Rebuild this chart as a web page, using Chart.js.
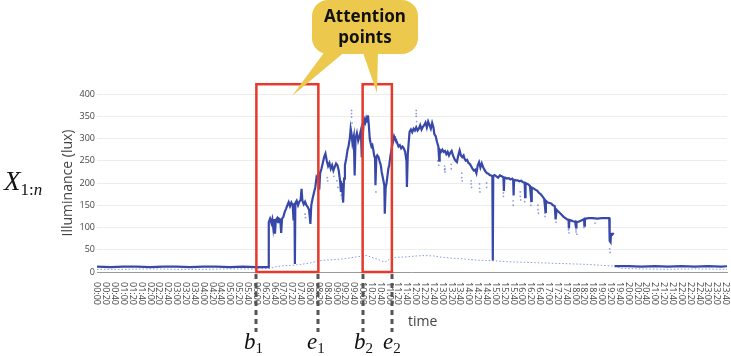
<!DOCTYPE html>
<html>
<head>
<meta charset="utf-8">
<script src="https://cdn.jsdelivr.net/npm/chart.js@4.4.1/dist/chart.umd.min.js"></script>
<style>
  body { margin: 0; background: #fff; }
  #wrap { position: relative; width: 731px; height: 356px; overflow: hidden; }
  #chart { position: absolute; left: 0; top: 0; }
  .math { position: absolute; font-family: "Liberation Serif", "DejaVu Serif", serif; font-style: italic; color: #111; white-space: nowrap; line-height: 1; }
  .math sub { font-style: normal; font-size: 15px; vertical-align: -4px; }
  #xvar { left: 4px; top: 168px; font-size: 27px; }
  #xvar sub { font-size: 17px; vertical-align: -5px; }
  #xvar sub i { font-style: italic; }
  #bubble { position: absolute; left: 0; top: 0; }
  #bubbleText { position: absolute; left: 312px; top: 5px; width: 106px; text-align: center; font-family: "Noto Sans", sans-serif; font-weight: bold; font-size: 17px; line-height: 21px; color: #111; }
  #xtitle { position: absolute; left: 408px; top: 314px; font-family: "Open Sans", sans-serif; font-size: 14px; line-height: 14px; color: #444; }
</style>
</head>
<body>
<div id="wrap">
  <canvas id="chart" width="731" height="356"></canvas>
  <svg id="bubble" width="731" height="120">
    <rect x="312" y="0" width="106" height="54" rx="16" fill="#ECC94D"/>
    <polygon points="326,50 347,50 292,96" fill="#ECC94D"/>
    <polygon points="362,50 378,50 377,93" fill="#ECC94D"/>
  </svg>
  <div id="bubbleText">Attention<br>points</div>
  <div id="xtitle">time</div>
  <div class="math" id="xvar">X<sub>1:<i>n</i></sub></div>
  <div class="math" style="left:244px;top:330px;font-size:23px">b<sub>1</sub></div>
  <div class="math" style="left:307px;top:330px;font-size:23px">e<sub>1</sub></div>
  <div class="math" style="left:354px;top:330px;font-size:23px">b<sub>2</sub></div>
  <div class="math" style="left:383px;top:330px;font-size:23px">e<sub>2</sub></div>
</div>
<script>
// illuminance log of one day (main sensor)
const mainTimes = [
  '00:00','00:30','01:00','01:30','02:00','02:30','03:00','03:30','04:00','04:30','05:00','05:30','06:00','06:27',
  '06:28','06:31','06:34','06:36','06:38','06:40','06:42','06:44','06:47','06:49','06:51','06:54','06:56','06:58',
  '07:01','07:04','07:07','07:10','07:13','07:16','07:19','07:22','07:24','07:26','07:27','07:28',
  '07:31','07:34','07:37','07:40','07:42','07:44','07:47','07:50','07:53','07:56','07:59',
  '08:02','08:04','08:07','08:10','08:13','08:16','08:19','08:21','08:22','08:24','08:27','08:30',
  '08:33','08:36','08:39','08:42','08:45','08:48','08:51','08:54','08:57',
  '09:00','09:03','09:06','09:09','09:11','09:13','09:16','09:18','09:20','09:23','09:26','09:28',
  '09:31','09:33','09:35','09:37','09:40','09:42','09:44','09:47','09:50','09:53','09:56','09:58',
  '10:00','10:02','10:04','10:06','10:08','10:10','10:12','10:14','10:16','10:18','10:20','10:22',
  '10:24','10:26','10:28','10:29','10:31','10:33','10:36','10:38','10:41','10:43','10:45','10:47',
  '10:49','10:50','10:52','10:54','10:56','10:58',
  '11:00','11:03','11:06','11:09','11:11','11:13','11:15','11:18','11:21','11:24','11:27','11:30',
  '11:33','11:36','11:39','11:40','11:42','11:44','11:46','11:49','11:52','11:55','11:58',
  '12:01','12:04','12:07','12:10','12:13','12:16','12:19','12:22','12:25','12:28','12:31','12:34',
  '12:37','12:40','12:42','12:45','12:48','12:51','12:53','12:54','12:57',
  '13:00','13:03','13:06','13:09','13:12','13:15','13:18','13:21','13:24','13:27','13:30','13:33',
  '13:36','13:39','13:42','13:45','13:48','13:50','13:53','13:56','13:59',
  '14:02','14:05','14:08','14:11','14:14','14:17','14:20','14:23','14:26','14:29','14:32','14:35',
  '14:38','14:41','14:44','14:47','14:50','14:53','14:54','14:55','14:58',
  '15:02','15:06','15:10','15:14','15:18','15:19','15:20','15:22','15:26','15:30','15:34','15:38',
  '15:40','15:41','15:42','15:46','15:50','15:54','15:58',
  '16:02','16:06','16:07','16:08','16:10','16:14','16:18','16:21','16:22','16:26','16:30','16:34',
  '16:38','16:42','16:46','16:50','16:53','16:54','16:58',
  '17:02','17:06','17:10','17:14','17:16','17:18','17:22','17:26','17:30','17:34','17:38','17:42',
  '17:45','17:46','17:47','17:50','17:55',
  '18:00','18:02','18:03','18:05','18:10','18:15','18:20','18:21','18:22','18:25','18:30','18:40',
  '18:50','19:00','19:10','19:17','19:18','19:20','19:21','19:24','19:27','19:28',
  '19:29','20:00','20:30','21:00','21:30','22:00','22:30','23:00','23:30','23:44'
];
const mainLux = [
  12,11,12,12,11,12,12,11,12,12,11,12,11,11,
  112,120,110,118,100,119,86,117,121,112,120,118,88,120,
  124,135,142,150,157,148,156,150,116,155,18,155,
  160,150,158,162,187,160,152,158,150,146,140,
  108,150,165,178,190,214,210,225,185,222,232,245,
  258,266,250,238,245,232,240,228,236,
  244,240,228,205,180,200,156,210,240,255,275,282,
  300,322,310,290,305,217,300,312,295,305,318,258,
  300,330,342,336,345,338,352,330,300,290,282,285,
  275,262,255,195,258,262,258,250,240,225,215,205,
  195,131,190,200,215,232,
  240,262,280,295,305,300,298,290,282,285,278,282,
  278,270,250,191,265,290,315,320,314,322,318,
  325,318,322,330,320,326,330,336,325,338,330,322,
  335,325,310,305,292,282,250,275,270,
  275,270,272,265,270,262,268,272,262,255,250,247,
  262,273,262,258,262,255,250,252,245,
  243,238,232,228,230,222,240,247,235,244,236,230,
  225,222,221,218,217,215,26,216,218,
  215,212,217,215,213,182,212,212,210,211,208,210,
  207,172,207,206,206,204,205,
  202,200,168,200,199,197,193,160,190,188,185,183,
  178,175,170,165,135,160,156,
  155,154,150,148,118,140,136,132,128,124,121,118,
  117,98,117,116,114,
  113,100,113,112,114,116,119,104,120,120,121,121,
  120,121,121,121,70,67,86,84,88,null,
  13,13,12,13,12,13,12,13,12,13
];

// second (reference) sensor, faint dotted trace
const refTimes = [
  '00:00','01:00','02:00','03:00','04:00','05:00','06:00','06:30','06:45','07:00','07:20','07:40',
  '08:00','08:20','08:40','09:00','09:20','09:40','10:00','10:10','10:20','10:35','10:50','11:00',
  '11:15','11:40','12:00','12:20','12:40','13:00','13:20','13:40','14:00','14:30','15:00','15:30',
  '16:00','16:30','17:00','17:30','18:00','18:30','19:00','19:30','19:45','20:30','21:30','22:30','23:44'
];
const refLux = [
  6,6,7,6,6,7,7,8,12,14,15,17,
  20,25,27,28,30,33,36,37,33,28,22,28,
  33,34,36,37,36,33,31,30,28,26,25,23,
  22,21,20,19,18,17,15,13,8,7,6,7,6
];

// scattered outlier readings around the main trace
const dotTimes = [
  '07:50','07:51','08:40','08:41','08:55','09:02','09:04','09:10','09:12','09:14','09:35','09:35','09:36',
  '10:30','10:51','11:41','12:01','12:01','12:02','12:50','12:52','13:05','13:06','13:20','13:44','13:45',
  '14:05','14:06','14:24','14:25','14:40','15:18','15:40','15:56','15:57','16:20','16:36','16:37','16:52',
  '17:15','17:17','17:45','17:46','18:02','18:04','18:20','18:45','19:18','19:19',
  '13:05','13:20','13:44','14:05','14:24','15:18','15:56','16:20','16:36','16:52','17:45','18:02',
  '12:01','09:35','15:40','16:06','17:15','18:20','14:40','13:06'
];
const dotLux = [
  130,122,212,205,215,205,190,190,172,165,363,348,335,
  180,145,205,363,350,338,250,240,238,225,242,222,205,
  205,190,198,180,200,170,150,180,162,150,150,132,125,
  130,112,102,88,95,85,106,110,52,44,
  230,232,212,198,188,178,170,158,140,132,95,90,
  356,356,160,158,122,100,190,232
];

// attention windows b1-e1, b2-e2
const markTimes = ['06:00', '08:20', '10:00', '11:06'];

function toMin(t) {
  const [h, m] = t.split(':').map(Number);
  return h * 60 + m;
}
function pairs(times, vals) {
  return times.map((t, i) => ({ x: toMin(t), y: vals[i] }));
}
function fmt(v) {
  const h = Math.floor(v / 60), m = v % 60;
  return String(h).padStart(2, '0') + ':' + String(m).padStart(2, '0');
}

const overlayPlugin = {
  id: 'overlay',
  afterDraw(chart) {
    const { ctx, chartArea, scales: { x, y } } = chart;
    ctx.save();

    // time labels, rotated clockwise
    ctx.font = '9px "Open Sans"';
    ctx.fillStyle = '#444';
    ctx.textAlign = 'left';
    ctx.textBaseline = 'middle';
    x.ticks.forEach(t => {
      const px = x.getPixelForValue(t.value);
      ctx.save();
      ctx.translate(px, chartArea.bottom + 10);
      ctx.rotate(Math.PI / 2);
      ctx.fillText(fmt(t.value), 0, 0);
      ctx.restore();
    });

    // dashed guides under the axis
    ctx.strokeStyle = '#555';
    ctx.lineWidth = 3;
    ctx.setLineDash([5, 4]);
    markTimes.forEach(t => {
      const px = Math.round(x.getPixelForValue(toMin(t)));
      ctx.beginPath();
      ctx.moveTo(px, chartArea.bottom + 2);
      ctx.lineTo(px, chartArea.bottom + 60);
      ctx.stroke();
    });

    // red boxes
    ctx.setLineDash([]);
    ctx.strokeStyle = '#E5392B';
    ctx.lineWidth = 2.5;
    const top = y.getPixelForValue(422), bottom = y.getPixelForValue(0);
    for (let i = 0; i < markTimes.length; i += 2) {
      const l = x.getPixelForValue(toMin(markTimes[i]));
      const r = x.getPixelForValue(toMin(markTimes[i + 1]));
      ctx.strokeRect(l, top, r - l, bottom - top);
    }
    ctx.restore();
  }
};

new Chart(document.getElementById('chart'), {
  type: 'line',
  data: {
    datasets: [
      {
        label: 'Illuminance',
        data: pairs(mainTimes, mainLux),
        borderColor: '#3848a8',
        borderWidth: 2.2,
        pointRadius: 0,
        tension: 0
      },
      {
        label: 'outliers',
        data: pairs(dotTimes, dotLux),
        showLine: false,
        pointRadius: 0.9,
        pointBorderWidth: 0,
        pointBackgroundColor: 'rgba(70, 90, 200, 0.6)'
      },
      {
        label: 'reference',
        data: pairs(refTimes, refLux),
        borderColor: 'rgba(100, 120, 220, 0.75)',
        borderWidth: 1,
        borderDash: [1.5, 2],
        pointRadius: 0,
        tension: 0
      }
    ]
  },
  options: {
    responsive: false,
    animation: false,
    devicePixelRatio: 1,
    layout: { padding: { top: 94, right: 4, left: 0, bottom: 0 } },
    plugins: { legend: { display: false }, tooltip: { enabled: false } },
    scales: {
      x: {
        type: 'linear',
        min: 0,
        max: 1423,
        afterFit: (s) => { s.height = 84; },
        ticks: { stepSize: 20, includeBounds: false, display: false },
        grid: { display: false },
        border: { color: '#9a9a9a' }
      },
      y: {
        min: 0,
        max: 400,
        afterFit: (s) => { s.width = 97; },
        ticks: { stepSize: 50, padding: 2, color: '#444', font: { family: 'Open Sans', size: 9 } },
        grid: { color: '#ececec', drawTicks: false },
        border: { display: false },
        title: {
          display: true,
          text: 'Illuminance (lux)',
          color: '#444',
          font: { family: 'Open Sans', size: 14 },
          padding: { top: 60, bottom: 0 }
        }
      }
    }
  },
  plugins: [overlayPlugin]
});
</script>
</body>
</html>
